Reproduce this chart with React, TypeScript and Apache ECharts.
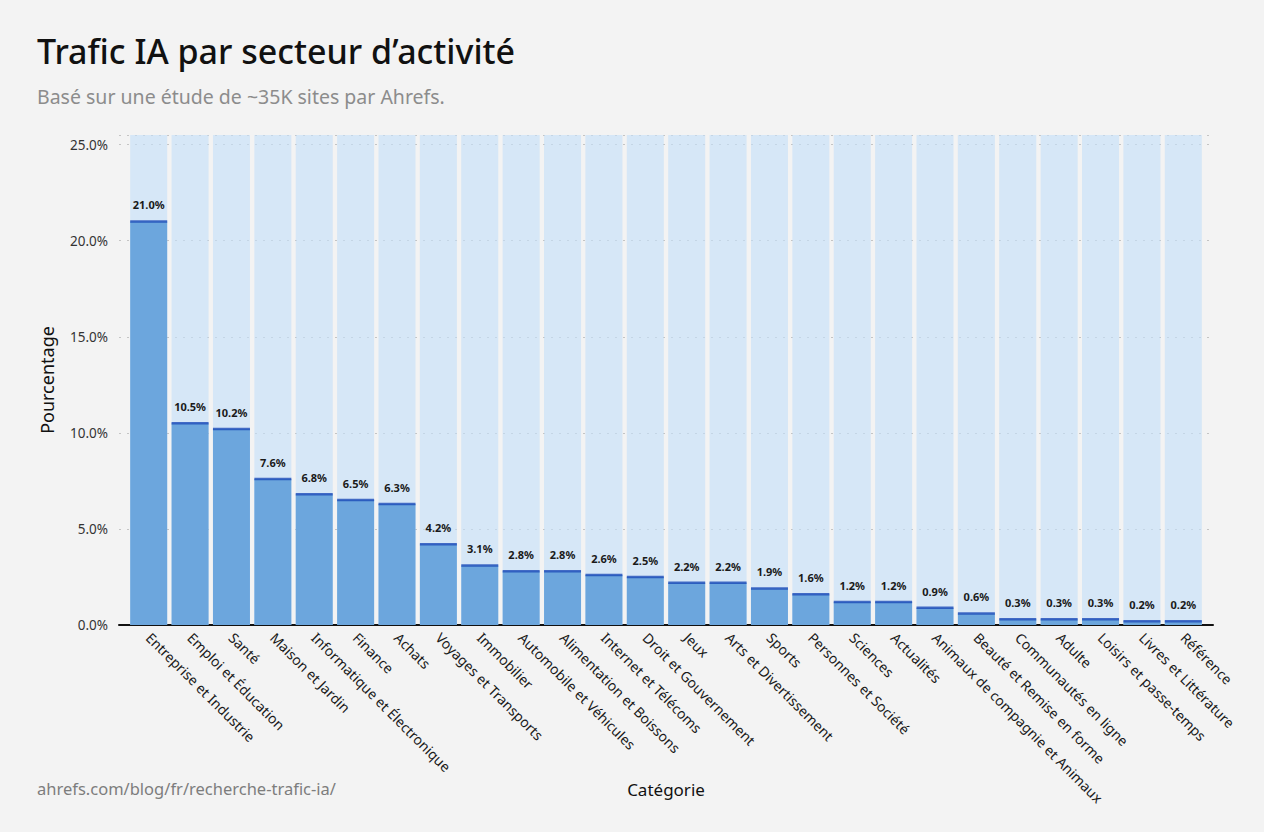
import React, { useEffect, useRef } from "react";
import * as echarts from "echarts";

const categories = [
  "Entreprise et Industrie",
  "Emploi et Éducation",
  "Santé",
  "Maison et Jardin",
  "Informatique et Électronique",
  "Finance",
  "Achats",
  "Voyages et Transports",
  "Immobilier",
  "Automobile et Véhicules",
  "Alimentation et Boissons",
  "Internet et Télécoms",
  "Droit et Gouvernement",
  "Jeux",
  "Arts et Divertissement",
  "Sports",
  "Personnes et Société",
  "Sciences",
  "Actualités",
  "Animaux de compagnie et Animaux",
  "Beauté et Remise en forme",
  "Communautés en ligne",
  "Adulte",
  "Loisirs et passe-temps",
  "Livres et Littérature",
  "Référence",
];

const values = [
  21.0, 10.5, 10.2, 7.6, 6.8, 6.5, 6.3, 4.2, 3.1, 2.8, 2.8, 2.6, 2.5, 2.2, 2.2,
  1.9, 1.6, 1.2, 1.2, 0.9, 0.6, 0.3, 0.3, 0.3, 0.2, 0.2,
];

const yTicks = [0, 5, 10, 15, 20, 25];

const TITLE = "Trafic IA par secteur d’activité";
const SUBTITLE = "Basé sur une étude de ~35K sites par Ahrefs.";
const SOURCE = "ahrefs.com/blog/fr/recherche-trafic-ia/";

export default function App() {
  const ref = useRef<HTMLDivElement>(null);

  useEffect(() => {
    if (!ref.current) return;
    const chart = echarts.init(ref.current, undefined, { renderer: "svg" });
    const font = "'Noto Sans', 'DejaVu Sans', sans-serif";
    const top = 135;
    const bottom = 207;
    const yMax = 25.5;
    chart.setOption({
      animation: false,
      backgroundColor: "#f3f3f3",
      textStyle: { fontFamily: font },
      title: [
        {
          text: TITLE,
          left: 32,
          top: 29,
          textStyle: { fontSize: 34, fontWeight: 500, color: "#111", fontFamily: font },
        },
        {
          text: SUBTITLE,
          left: 32,
          top: 81,
          textStyle: { fontSize: 19.5, fontWeight: 400, color: "#8c8c8c", fontFamily: font },
        },
        {
          text: SOURCE,
          left: 32,
          top: 775,
          textStyle: { fontSize: 16.5, fontWeight: 400, color: "#7d7d7d", fontFamily: font },
        },
      ],
      grid: [
        { left: 119, right: 51, top, bottom, containLabel: false },
        { left: 128, right: 60, top, bottom, containLabel: false },
      ],
      xAxis: [
        {
          type: "value",
          gridIndex: 0,
          min: 0,
          max: 1,
          axisLine: { show: true, onZero: false, lineStyle: { color: "#111", width: 2 } },
          axisTick: { show: false },
          axisLabel: { show: false },
          splitLine: { show: false },
        },
        {
          type: "category",
          gridIndex: 1,
          data: categories,
          name: "Catégorie",
          nameLocation: "middle",
          nameGap: 156,
          nameMoveOverlap: false,
          nameTextStyle: { fontSize: 17, color: "#111" },
          axisLine: { show: false },
          axisTick: { show: false },
          axisLabel: {
            interval: 0,
            rotate: -45,
            fontSize: 14,
            color: "#1a1a1a",
            margin: 10,
          },
        },
      ],
      yAxis: [
        {
          type: "value",
          gridIndex: 0,
          min: 0,
          max: yMax,
          interval: 5,
          name: "Pourcentage",
          nameLocation: "middle",
          nameGap: 63,
          nameRotate: 90,
          nameMoveOverlap: false,
          nameTextStyle: { fontSize: 18, color: "#111" },
          axisLine: { show: false },
          axisTick: { show: false },
          axisLabel: {
            fontSize: 13.5,
            color: "#333",
            margin: 11,
            formatter: (v: number) => (yTicks.includes(v) ? v.toFixed(1) + "%" : ""),
          },
          splitLine: {
            show: true,
            lineStyle: { color: "#c4c4c4", type: [2, 6], width: 1 },
          },
        },
        {
          type: "value",
          gridIndex: 1,
          min: 0,
          max: yMax,
          interval: 5,
          axisLine: { show: false },
          axisTick: { show: false },
          axisLabel: { show: false },
          splitLine: { show: false },
        },
      ],
      series: [
        {
          type: "bar",
          xAxisIndex: 1,
          yAxisIndex: 1,
          data: values,
          barWidth: 37,
          showBackground: true,
          backgroundStyle: { color: "rgba(196,222,248,0.62)" },
          itemStyle: { color: "#6ca6dd" },
          label: {
            show: true,
            position: "top",
            distance: 11,
            fontSize: 11,
            fontWeight: "bold",
            color: "#1a1a1a",
            formatter: (p: any) => Number(p.value).toFixed(1) + "%",
          },
          z: 2,
        },
        {
          type: "scatter",
          xAxisIndex: 1,
          yAxisIndex: 1,
          data: values,
          symbol: "rect",
          symbolSize: [37, 2.5],
          itemStyle: { color: "#1c4bb8" },
          silent: true,
          z: 3,
        },
      ],
    });
    return () => chart.dispose();
  }, []);

  return (
    <div
      ref={ref}
      style={{ position: "fixed", left: 0, top: 0, width: 1264, height: 832 }}
    />
  );
}
